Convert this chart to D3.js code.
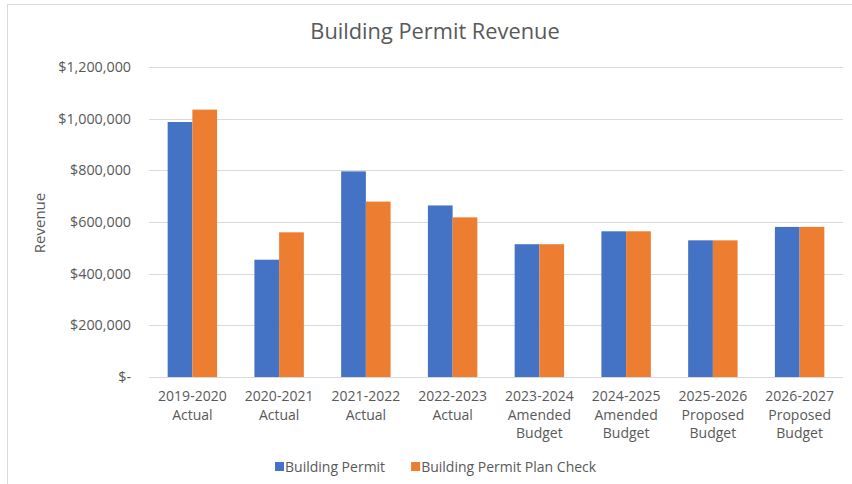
<!DOCTYPE html>
<html>
<head>
<meta charset="utf-8">
<script src="https://cdn.jsdelivr.net/npm/d3@7"></script>
<style>
  body { margin: 0; background: #fff; }
  text { font-family: "Open Sans", "Noto Sans", sans-serif; fill: #595959; }
</style>
</head>
<body>
<div id="chart"></div>
<script>
const categories = [
    ['2019-2020', 'Actual'],
    ['2020-2021', 'Actual'],
    ['2021-2022', 'Actual'],
    ['2022-2023', 'Actual'],
    ['2023-2024', 'Amended', 'Budget'],
    ['2024-2025', 'Amended', 'Budget'],
    ['2025-2026', 'Proposed', 'Budget'],
    ['2026-2027', 'Proposed', 'Budget']
];
const seriesNames = ['Building Permit', 'Building Permit Plan Check'];
const permit = [987000, 454000, 796000, 664000, 514000, 564000, 529000, 581000];
const planCheck = [1035000, 560000, 679000, 618000, 514000, 564000, 529000, 581000];
const yTicks = [0, 200000, 400000, 600000, 800000, 1000000, 1200000];
const colors = ['#4472C4', '#ED7D31'];

const svgWidth = 852;
const svgHeight = 484;
const margin = { top: 67, right: 9, bottom: 107, left: 149 };
const width = svgWidth - margin.left - margin.right;
const height = svgHeight - margin.top - margin.bottom;

const root = d3.select('#chart')
    .append('svg')
    .attr('width', svgWidth)
    .attr('height', svgHeight);

// chart frame (cropped on the right and bottom)
root.append('rect')
    .attr('x', 7.5).attr('y', 4.5)
    .attr('width', 900).attr('height', 600)
    .attr('fill', 'none')
    .attr('stroke', '#d9d9d9');

root.append('text')
    .attr('x', 435).attr('y', 39)
    .attr('text-anchor', 'middle')
    .style('font-size', '21.8px')
    .text('Building Permit Revenue');

const svg = root.append('g')
    .attr('transform', `translate(${margin.left}, ${margin.top})`);

const x = d3.scaleBand().domain(d3.range(categories.length)).range([0, width]).paddingInner(0.43).paddingOuter(0.215);
const xs = d3.scaleBand().domain([0, 1]).range([0, x.bandwidth()]);
const y = d3.scaleLinear().domain([0, 1200000]).range([height, 0]);

svg.append('g')
    .selectAll('line')
    .data(yTicks)
    .join('line')
    .attr('x1', 0).attr('x2', width)
    .attr('y1', d => Math.round(y(d)) + 0.5)
    .attr('y2', d => Math.round(y(d)) + 0.5)
    .attr('stroke', '#d9d9d9')
    .attr('stroke-width', 1);

const yAxis = svg.append('g')
    .call(d3.axisLeft(y).tickValues(yTicks).tickSize(0).tickPadding(18)
        .tickFormat(d => d === 0 ? '$-' : '$' + d3.format(',')(d)));
yAxis.select('.domain').remove();
yAxis.attr('font-family', null).attr('font-size', null);
yAxis.selectAll('text').style('font-size', '14.3px').attr('fill', null);

const series = [permit, planCheck];
series.forEach((vals, s) => {
    svg.append('g')
        .selectAll('rect')
        .data(vals)
        .join('rect')
        .attr('x', (d, i) => x(i) + xs(s))
        .attr('y', d => y(d))
        .attr('width', xs.bandwidth())
        .attr('height', d => height - y(d))
        .attr('fill', colors[s]);
});

const xAxis = svg.append('g')
    .attr('transform', `translate(0, ${height})`)
    .call(d3.axisBottom(x).tickSize(0).tickFormat(''));
xAxis.select('.domain').remove();

xAxis.selectAll('.tick').each(function (i) {
    const t = d3.select(this).append('text')
        .attr('text-anchor', 'middle')
        .style('font-size', '14px');
    categories[i].forEach((line, k) => {
        t.append('tspan').attr('x', 0).attr('y', 24 + k * 18.6).text(line);
    });
});

root.append('text')
    .attr('transform', 'translate(45, 223) rotate(-90)')
    .attr('text-anchor', 'middle')
    .style('font-size', '15px')
    .text('Revenue');

// legend, items laid out one after another
const legend = root.append('g');
let lx = 275;
seriesNames.forEach((name, s) => {
    legend.append('rect')
        .attr('x', lx).attr('y', 462)
        .attr('width', 9).attr('height', 9)
        .attr('fill', colors[s]);
    const t = legend.append('text')
        .attr('x', lx + 10).attr('y', 472)
        .style('font-size', '14px')
        .text(name);
    lx += 10 + t.node().getComputedTextLength() + 26;
});
</script>
</body>
</html>
